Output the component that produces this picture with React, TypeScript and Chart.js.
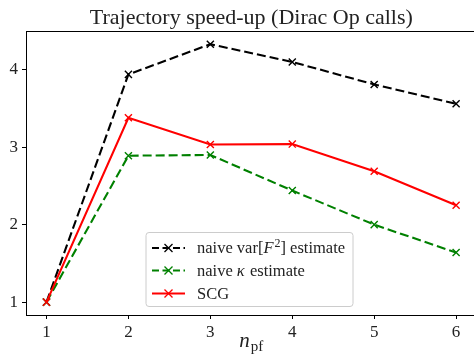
import React, { useEffect, useRef } from "react";
import { Chart, registerables } from "chart.js";

Chart.register(...registerables);

const categories = [1, 2, 3, 4, 5, 6];
const naiveVar = [1.0, 3.94, 4.33, 4.1, 3.81, 3.56];
const naiveKappa = [1.0, 2.89, 2.9, 2.44, 2.0, 1.64];
const scg = [1.0, 3.38, 3.035, 3.04, 2.69, 2.25];
const xTicks = [1, 2, 3, 4, 5, 6];
const yTicks = [1, 2, 3, 4];

const SERIF = "'Liberation Serif', 'DejaVu Serif', serif";
const BLACK = "#000000";
const GREEN = "#008000";
const RED = "#ff0000";

const toPts = (ys: number[]) => categories.map((x, i) => ({ x, y: ys[i] }));

const overlay = {
  id: "overlay",
  afterDraw(chart: any) {
    const { ctx, chartArea } = chart;
    const { left, right, top } = chartArea;
    const cx = (left + right) / 2;
    ctx.save();
    // top spine
    ctx.strokeStyle = "#000";
    ctx.lineWidth = 1;
    ctx.beginPath();
    ctx.moveTo(left, top + 0.5);
    ctx.lineTo(right, top + 0.5);
    ctx.stroke();

    // title
    ctx.fillStyle = "#222";
    ctx.font = `22px ${SERIF}`;
    ctx.textAlign = "center";
    ctx.textBaseline = "alphabetic";
    ctx.fillText("Trajectory speed-up (Dirac Op calls)", cx, 23.5);

    // x label n_pf
    ctx.textAlign = "left";
    ctx.font = `italic 21px ${SERIF}`;
    const wN = ctx.measureText("n").width;
    ctx.font = `15px ${SERIF}`;
    const wPf = ctx.measureText("pf").width;
    const startX = cx - (wN + wPf + 1) / 2;
    ctx.font = `italic 21px ${SERIF}`;
    ctx.fillText("n", startX, 347);
    ctx.font = `15px ${SERIF}`;
    ctx.fillText("pf", startX + wN + 1, 351);

    // legend
    const lx = 146, ly = 232.5, lw = 207, lh = 74;
    ctx.beginPath();
    const r = 3;
    ctx.moveTo(lx + r, ly);
    ctx.lineTo(lx + lw - r, ly);
    ctx.quadraticCurveTo(lx + lw, ly, lx + lw, ly + r);
    ctx.lineTo(lx + lw, ly + lh - r);
    ctx.quadraticCurveTo(lx + lw, ly + lh, lx + lw - r, ly + lh);
    ctx.lineTo(lx + r, ly + lh);
    ctx.quadraticCurveTo(lx, ly + lh, lx, ly + lh - r);
    ctx.lineTo(lx, ly + r);
    ctx.quadraticCurveTo(lx, ly, lx + r, ly);
    ctx.closePath();
    ctx.fillStyle = "rgba(255,255,255,0.85)";
    ctx.fill();
    ctx.strokeStyle = "#cccccc";
    ctx.lineWidth = 1;
    ctx.stroke();

    const rows = [
      { color: BLACK, dash: [7, 3.5], y: 248, parts: [["naive var[", ""], ["F", "italic"], ["2", "sup"], ["] estimate", ""]] },
      { color: GREEN, dash: [7, 3.5], y: 270.5, parts: [["naive ", ""], ["\u03ba", "italic"], [" estimate", ""]] },
      { color: RED, dash: [], y: 293.5, parts: [["SCG", ""]] },
    ];
    rows.forEach((row) => {
      ctx.strokeStyle = row.color;
      ctx.lineWidth = 2;
      ctx.setLineDash(row.dash);
      ctx.beginPath();
      ctx.moveTo(152, row.y);
      ctx.lineTo(185, row.y);
      ctx.stroke();
      ctx.setLineDash([]);
      ctx.lineWidth = 1.3;
      const m = 4;
      ctx.beginPath();
      ctx.moveTo(168.5 - m, row.y - m);
      ctx.lineTo(168.5 + m, row.y + m);
      ctx.moveTo(168.5 - m, row.y + m);
      ctx.lineTo(168.5 + m, row.y - m);
      ctx.stroke();

      let tx = 197;
      ctx.fillStyle = "#222";
      row.parts.forEach(([txt, style]) => {
        let yy = row.y + 5;
        if (style === "italic") ctx.font = `italic 16.5px ${SERIF}`;
        else if (style === "sup") {
          ctx.font = `12px ${SERIF}`;
          yy = row.y - 1.5;
        } else ctx.font = `16.5px ${SERIF}`;
        ctx.fillText(txt, tx, yy);
        tx += ctx.measureText(txt).width + (style === "italic" ? 1 : 0);
      });
    });
    ctx.restore();
  },
};

export default function App() {
  const ref = useRef<HTMLCanvasElement | null>(null);
  useEffect(() => {
    if (!ref.current) return;
    const lineBase = {
      pointStyle: "crossRot" as const,
      pointRadius: 5,
      pointBorderWidth: 1.4,
      borderWidth: 2.1,
      fill: false,
      tension: 0,
    };
    const chart = new Chart(ref.current, {
      type: "line",
      data: {
        datasets: [
          { ...lineBase, label: "naive var[F2] estimate", data: toPts(naiveVar), borderColor: BLACK, backgroundColor: BLACK, borderDash: [9, 4], order: 3 },
          { ...lineBase, label: "naive kappa estimate", data: toPts(naiveKappa), borderColor: GREEN, backgroundColor: GREEN, borderDash: [9, 4], order: 2 },
          { ...lineBase, label: "SCG", data: toPts(scg), borderColor: RED, backgroundColor: RED, order: 1 },
        ],
      },
      options: {
        responsive: false,
        animation: false,
        devicePixelRatio: 1,
        layout: { padding: { top: 31, left: 0, right: 0, bottom: 0 } },
        plugins: { legend: { display: false }, title: { display: false }, tooltip: { enabled: false } },
        scales: {
          x: {
            type: "linear",
            min: 0.75,
            max: 6.25,
            afterFit: (s: any) => { s.height = 45; s.paddingLeft = 0; s.paddingRight = 0; },
            afterBuildTicks: (s: any) => { s.ticks = xTicks.map((v) => ({ value: v })); },
            grid: { display: true, drawOnChartArea: false, drawTicks: true, tickLength: 4, tickColor: "#000", color: "#000" },
            border: { display: true, color: "#000", width: 1 },
            ticks: { font: { family: SERIF, size: 17 }, color: "#222", padding: 3, autoSkip: false, maxRotation: 0 },
          },
          y: {
            type: "linear",
            min: 0.8335,
            max: 4.5,
            afterFit: (s: any) => { s.width = 26; s.paddingTop = 0; s.paddingBottom = 0; },
            afterBuildTicks: (s: any) => { s.ticks = yTicks.map((v) => ({ value: v })); },
            grid: { display: true, drawOnChartArea: false, drawTicks: true, tickLength: 4, tickColor: "#000", color: "#000" },
            border: { display: true, color: "#000", width: 1 },
            ticks: { font: { family: SERIF, size: 17 }, color: "#222", padding: 4 },
          },
        },
      },
      plugins: [overlay],
    });
    return () => chart.destroy();
  }, []);
  return (
    <div style={{ position: "fixed", left: 0, top: 0, width: 474, height: 360, overflow: "hidden", background: "#fff" }}>
      <canvas ref={ref} width={483} height={360} style={{ display: "block", width: 483, height: 360 }} />
    </div>
  );
}
